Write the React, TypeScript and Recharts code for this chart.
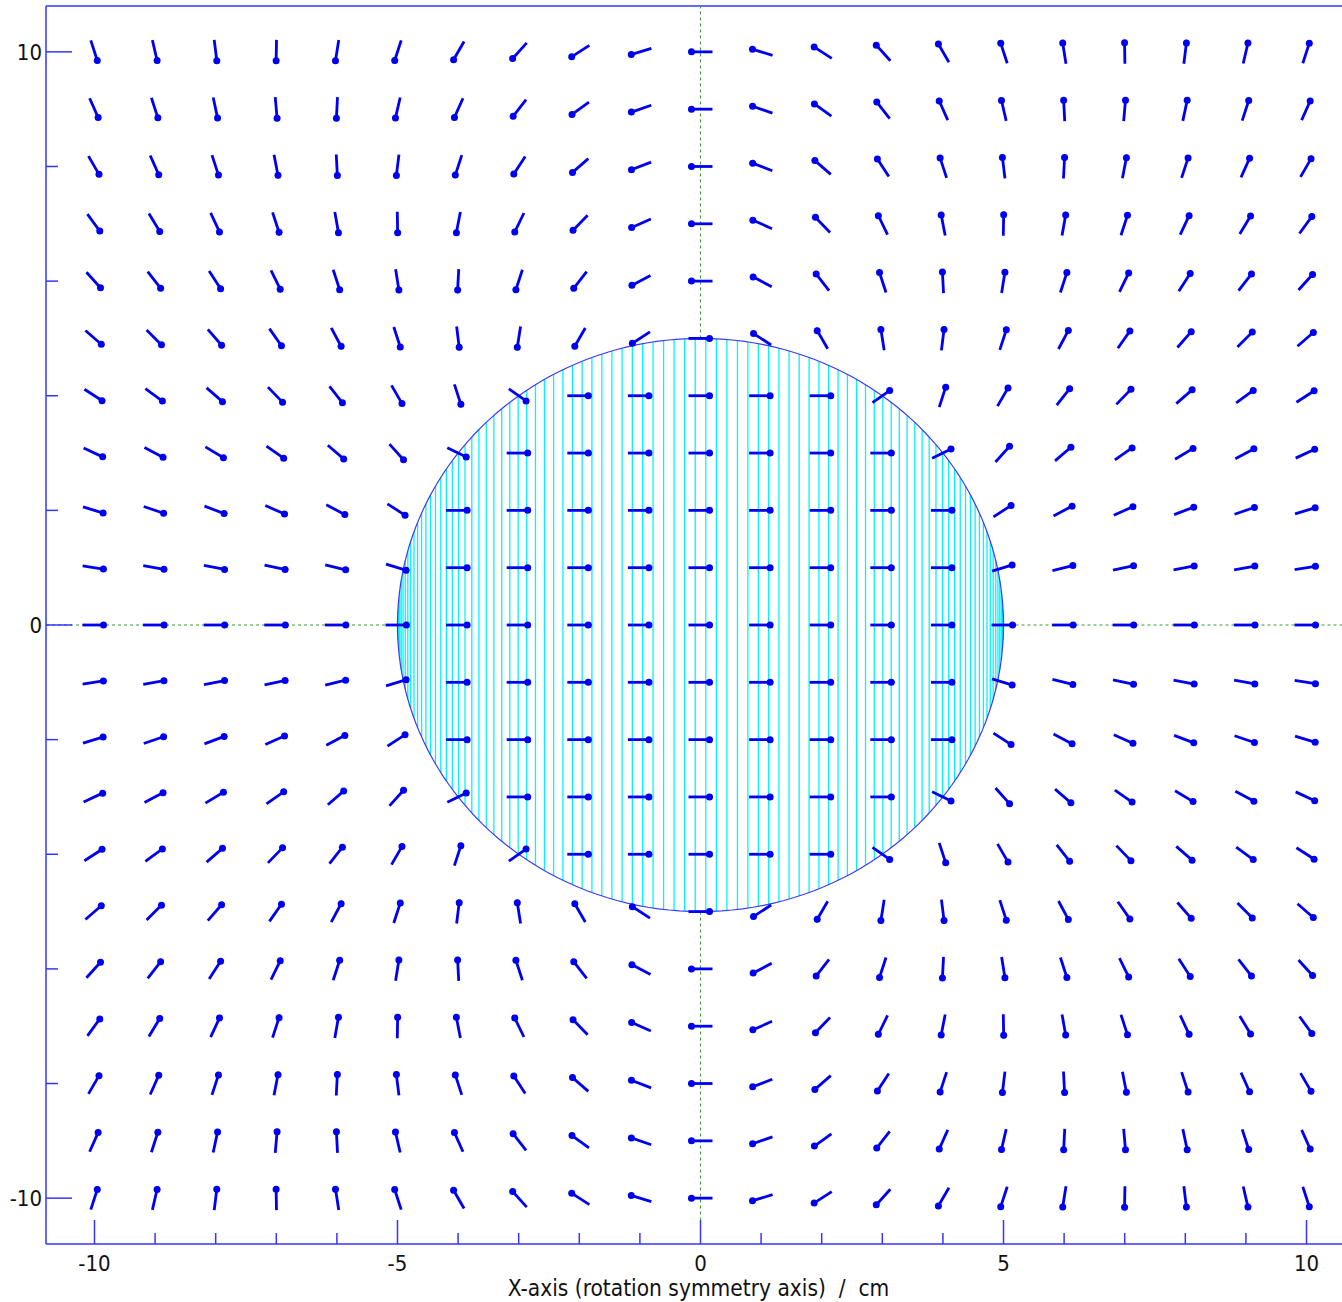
import React from 'react'
import { ScatterChart, Scatter, XAxis, YAxis, ReferenceLine } from 'recharts'

// grid of sample points (cm)
const X_VALUES = [-10, -9, -8, -7, -6, -5, -4, -3, -2, -1, 0, 1, 2, 3, 4, 5, 6, 7, 8, 9, 10]
const Y_VALUES = [10, 9, 8, 7, 6, 5, 4, 3, 2, 1, 0, -1, -2, -3, -4, -5, -6, -7, -8, -9, -10]

// field direction at every grid point, degrees (0 = +x), one row per y
const ROW_P10 = [-72, -77, -83, -91, -99, -108, -120, -132, -147, -163, 180, 163, 147, 132, 120, 108, 99, 91, 83, 77, 72]
const ROW_P9 = [-66, -72, -78, -85, -93, -103, -114, -128, -144, -161, 180, 161, 144, 128, 114, 103, 93, 85, 78, 72, 66]
const ROW_P8 = [-60, -66, -72, -79, -87, -97, -108, -123, -139, -159, 180, 159, 139, 123, 108, 97, 87, 79, 72, 66, 60]
const ROW_P7 = [-54, -59, -65, -72, -80, -89, -101, -116, -134, -156, 180, 156, 134, 116, 101, 89, 80, 72, 65, 59, 54]
const ROW_P6 = [-48, -52, -57, -64, -72, -81, -93, -108, -128, -152, 180, 152, 128, 108, 93, 81, 72, 64, 57, 52, 48]
const ROW_P5 = [-41, -45, -49, -55, -62, -72, -83, -99, -120, -147, 0, 147, 120, 99, 83, 72, 62, 55, 49, 45, 41]
const ROW_P4 = [-33, -36, -41, -46, -52, -60, -72, -35, 0, 0, 0, 0, 0, 35, 72, 60, 52, 46, 41, 36, 33]
const ROW_P3 = [-25, -28, -31, -35, -41, -48, -26, 0, 0, 0, 0, 0, 0, 0, 26, 48, 41, 35, 31, 28, 25]
const ROW_P2 = [-17, -19, -21, -24, -28, -33, 0, 0, 0, 0, 0, 0, 0, 0, 0, 33, 28, 24, 21, 19, 17]
const ROW_P1 = [-9, -10, -11, -12, -14, -17, 0, 0, 0, 0, 0, 0, 0, 0, 0, 17, 14, 12, 11, 10, 9]
const ROW_0 = [0, 0, 0, 0, 0, 0, 0, 0, 0, 0, 0, 0, 0, 0, 0, 0, 0, 0, 0, 0, 0]
const ROW_M1 = [9, 10, 11, 12, 14, 17, 0, 0, 0, 0, 0, 0, 0, 0, 0, -17, -14, -12, -11, -10, -9]
const ROW_M2 = [17, 19, 21, 24, 28, 33, 0, 0, 0, 0, 0, 0, 0, 0, 0, -33, -28, -24, -21, -19, -17]
const ROW_M3 = [25, 28, 31, 35, 41, 48, 26, 0, 0, 0, 0, 0, 0, 0, -26, -48, -41, -35, -31, -28, -25]
const ROW_M4 = [33, 36, 41, 46, 52, 60, 72, 35, 0, 0, 0, 0, 0, -35, -72, -60, -52, -46, -41, -36, -33]
const ROW_M5 = [41, 45, 49, 55, 62, 72, 83, 99, 120, 147, 0, -147, -120, -99, -83, -72, -62, -55, -49, -45, -41]
const ROW_M6 = [48, 52, 57, 64, 72, 81, 93, 108, 128, 152, 180, -152, -128, -108, -93, -81, -72, -64, -57, -52, -48]
const ROW_M7 = [54, 59, 65, 72, 80, 89, 101, 116, 134, 156, 180, -156, -134, -116, -101, -89, -80, -72, -65, -59, -54]
const ROW_M8 = [60, 66, 72, 79, 87, 97, 108, 123, 139, 159, 180, -159, -139, -123, -108, -97, -87, -79, -72, -66, -60]
const ROW_M9 = [66, 72, 78, 85, 93, 103, 114, 128, 144, 161, 180, -161, -144, -128, -114, -103, -93, -85, -78, -72, -66]
const ROW_M10 = [72, 77, 83, 91, 99, 108, 120, 132, 147, 163, 180, -163, -147, -132, -120, -108, -99, -91, -83, -77, -72]

const ANGLE_ROWS = [
  ROW_P10, ROW_P9, ROW_P8, ROW_P7, ROW_P6, ROW_P5, ROW_P4, ROW_P3, ROW_P2, ROW_P1, ROW_0,
  ROW_M1, ROW_M2, ROW_M3, ROW_M4, ROW_M5, ROW_M6, ROW_M7, ROW_M8, ROW_M9, ROW_M10,
]

// sphere and axes
const RADIUS = 5
const HATCH_STEP_DEG = 2
const X_DOMAIN = [-10.8, 10.8]
const Y_DOMAIN = [-10.8, 10.8]
const X_TICKS = [-10, -9, -8, -7, -6, -5, -4, -3, -2, -1, 0, 1, 2, 3, 4, 5, 6, 7, 8, 9, 10]
const X_LABELS = [-10, -5, 0, 5, 10]
const Y_TICKS = [-10, -8, -6, -4, -2, 0, 2, 4, 6, 8, 10]
const Y_LABELS = [-10, 0, 10]
const X_TITLE = 'X-axis (rotation symmetry axis) \u00a0/\u00a0 cm'

const AXIS_COLOR = '#3535ff'
const ARROW_COLOR = '#0000f0'
const FONT = "'DejaVu Sans Condensed', 'Noto Sans', sans-serif"

const arrowData = Y_VALUES.flatMap((y, i) =>
  X_VALUES.map((x, j) => ({ x, y, angle: ANGLE_ROWS[i][j] }))
)

// outline of the sphere section, in data order so the scatter line runs around it
const outline: { x: number; y: number }[] = []
for (let d = 0; d <= 360; d += HATCH_STEP_DEG) {
  const t = (d * Math.PI) / 180
  outline.push({ x: RADIUS * Math.cos(t), y: RADIUS * Math.sin(t) })
}

const hatchX: { x: number; h: number }[] = []
for (let d = HATCH_STEP_DEG / 2; d < 180; d += HATCH_STEP_DEG) {
  const t = (d * Math.PI) / 180
  hatchX.push({ x: RADIUS * Math.cos(t), h: RADIUS * Math.sin(t) })
}

function ArrowShape(props: any) {
  const { cx, cy, payload } = props
  if (cx == null || cy == null) return <g />
  const a = (payload.angle * Math.PI) / 180
  const dx = Math.cos(a)
  const dy = -Math.sin(a)
  return (
    <g>
      <line
        x1={cx - 12 * dx}
        y1={cy - 12 * dy}
        x2={cx + 12 * dx}
        y2={cy + 12 * dy}
        stroke={ARROW_COLOR}
        strokeWidth={2.8}
      />
      <circle cx={cx + 9 * dx} cy={cy + 9 * dy} r={3.5} fill={ARROW_COLOR} />
    </g>
  )
}

function XTick(props: any) {
  const { x, y, payload } = props
  const major = X_LABELS.includes(payload.value)
  return (
    <g>
      <line x1={x} x2={x} y1={y} y2={y - (major ? 24 : 11)} stroke={AXIS_COLOR} strokeWidth={1.5} />
      {major && (
        <text x={x} y={y + 27} textAnchor="middle" fontSize={22} fontFamily={FONT} fill="#111">
          {payload.value}
        </text>
      )}
    </g>
  )
}

function YTick(props: any) {
  const { x, y, payload } = props
  const major = Y_LABELS.includes(payload.value)
  return (
    <g>
      <line x1={x} x2={x + (major ? 26 : 12)} y1={y} y2={y} stroke={AXIS_COLOR} strokeWidth={1.5} />
      {major && (
        <text x={x - 4} y={y} dy="0.36em" textAnchor="end" fontSize={22} fontFamily={FONT} fill="#111">
          {payload.value}
        </text>
      )}
    </g>
  )
}

function XTitle(props: any) {
  const vb = props.viewBox
  return (
    <text
      x={vb.x + vb.width / 2 - 2}
      y={vb.y + 52}
      textAnchor="middle"
      fontSize={22.5}
      fontFamily={FONT}
      fill="#111"
    >
      {X_TITLE}
    </text>
  )
}

export default function App() {
  return (
    <div style={{ position: 'absolute', left: 0, top: 0, width: 1342, height: 1302, overflow: 'hidden', background: '#fff' }}>
      <ScatterChart width={1360} height={1302} margin={{ top: 6, right: 5, bottom: 0, left: 0 }}>
        <XAxis
          type="number"
          dataKey="x"
          domain={X_DOMAIN}
          allowDataOverflow
          ticks={X_TICKS}
          interval={0}
          tickSize={0}
          tickMargin={0}
          tickLine={false}
          tick={<XTick />}
          height={58}
          axisLine={{ stroke: AXIS_COLOR, strokeWidth: 1.5 }}
          label={{ content: <XTitle /> }}
        />
        <YAxis
          type="number"
          dataKey="y"
          domain={Y_DOMAIN}
          allowDataOverflow
          ticks={Y_TICKS}
          interval={0}
          tickSize={0}
          tickMargin={0}
          tickLine={false}
          tick={<YTick />}
          width={46}
          axisLine={{ stroke: AXIS_COLOR, strokeWidth: 1.5 }}
        />
        <ReferenceLine y={Y_DOMAIN[1]} stroke={AXIS_COLOR} strokeWidth={1.5} ifOverflow="visible" />

        {/* symmetry axes, dashed green, interrupted by the sphere */}
        <ReferenceLine segment={[{ x: 0, y: RADIUS }, { x: 0, y: Y_DOMAIN[1] }]} stroke="#3d9a3d" strokeDasharray="3 3" />
        <ReferenceLine segment={[{ x: 0, y: -RADIUS }, { x: 0, y: Y_DOMAIN[0] }]} stroke="#3d9a3d" strokeDasharray="3 3" />
        <ReferenceLine segment={[{ x: X_DOMAIN[0], y: 0 }, { x: -RADIUS, y: 0 }]} stroke="#3d9a3d" strokeDasharray="3 3" />
        <ReferenceLine segment={[{ x: RADIUS, y: 0 }, { x: X_DOMAIN[1], y: 0 }]} stroke="#3d9a3d" strokeDasharray="3 3" />

        {/* cyan hatching of the sphere */}
        {hatchX.map((p, i) => (
          <ReferenceLine
            key={i}
            segment={[{ x: p.x, y: -p.h }, { x: p.x, y: p.h }]}
            stroke="#00f4ff"
            strokeWidth={1.3}
          />
        ))}

        <Scatter
          data={outline}
          line={{ stroke: '#3a3aff', strokeWidth: 1.2 }}
          shape={() => <g />}
          isAnimationActive={false}
        />
        <Scatter data={arrowData} shape={<ArrowShape />} isAnimationActive={false} />
      </ScatterChart>
    </div>
  )
}
